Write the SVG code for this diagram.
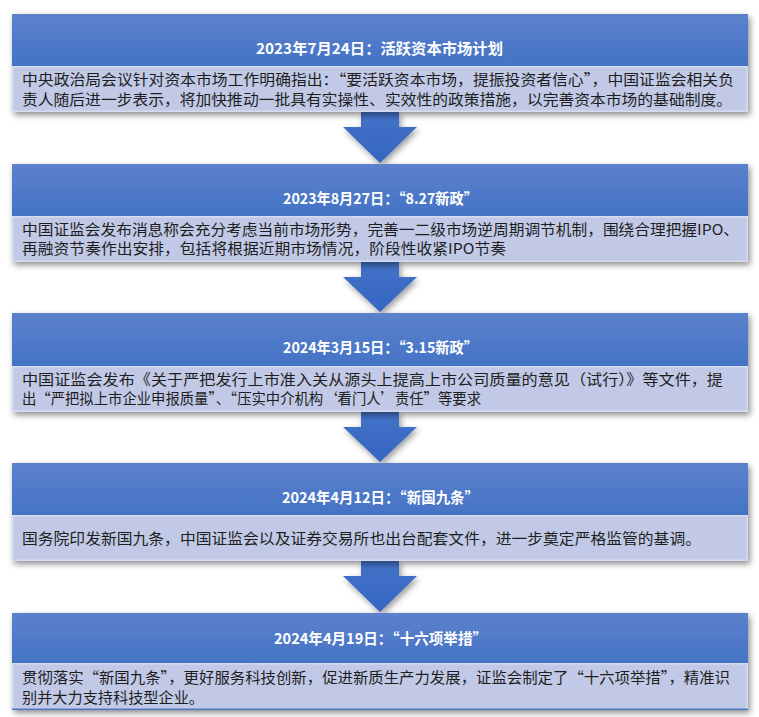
<svg xmlns="http://www.w3.org/2000/svg" width="759" height="717" viewBox="0 0 759 717">
<defs>
<linearGradient id="hg" x1="0" y1="0" x2="0" y2="1">
<stop offset="0" stop-color="#5c81cc"/>
<stop offset="1" stop-color="#4573c5"/>
</linearGradient>
<linearGradient id="ag" x1="0" y1="0" x2="0" y2="1">
<stop offset="0" stop-color="#4473c8"/>
<stop offset="1" stop-color="#3565c2"/>
</linearGradient>
<filter id="sh" x="-5%" y="-10%" width="115%" height="130%">
<feDropShadow dx="2" dy="3" stdDeviation="3" flood-color="#000" flood-opacity="0.45"/>
</filter>
<filter id="ash" x="-30%" y="-20%" width="160%" height="160%">
<feDropShadow dx="2" dy="3" stdDeviation="3" flood-color="#000" flood-opacity="0.4"/>
</filter>
</defs>
<style>
.hd{fill:url(#hg);}
.ds{fill:#c1c9e6;stroke:#d6dcf0;stroke-width:1.5;}
.tt{font-family:"Noto Sans CJK SC","Noto Sans",sans-serif;font-weight:bold;font-size:15px;fill:#ffffff;}
.tx{font-family:"Noto Sans CJK SC","Noto Sans",sans-serif;font-size:15px;fill:#1e1e1e;}
.ar{fill:url(#ag);}
</style>
<rect width="759" height="717" fill="#ffffff"/>
<g id="connectors" filter="url(#ash)">
<path class="ar" d="M361,112 H399 V127 H417 L380,163 L343,127 H361 Z"/>
<path class="ar" d="M361,262 H399 V277 H417 L380,312 L343,277 H361 Z"/>
<path class="ar" d="M361,412 H399 V427 H417 L380,462 L343,427 H361 Z"/>
<path class="ar" d="M361,561 H399 V576 H417 L380,612 L343,576 H361 Z"/>
</g>
<g id="node1">
<g filter="url(#sh)">
<rect class="hd" x="12" y="14" width="736" height="52"/>
<rect class="ds" x="12.75" y="66.75" width="734.5" height="44.5"/>
</g>
<text class="tt" x="256" y="54" textLength="247" lengthAdjust="spacingAndGlyphs">2023年7月24日：活跃资本市场计划</text>
<text class="tx" x="22" y="85" textLength="712" lengthAdjust="spacingAndGlyphs">中央政治局会议针对资本市场工作明确指出：“要活跃资本市场，提振投资者信心”，中国证监会相关负</text>
<text class="tx" x="22" y="104.5" textLength="710" lengthAdjust="spacingAndGlyphs">责人随后进一步表示，将加快推动一批具有实操性、实效性的政策措施，以完善资本市场的基础制度。</text>
</g>
<g id="node2">
<g filter="url(#sh)">
<rect class="hd" x="12" y="164" width="736" height="52"/>
<rect class="ds" x="12.75" y="216.75" width="734.5" height="44.5"/>
</g>
<text class="tt" x="283" y="204" textLength="195" lengthAdjust="spacingAndGlyphs">2023年8月27日：“8.27新政”</text>
<text class="tx" x="22" y="234.5" textLength="717" lengthAdjust="spacingAndGlyphs">中国证监会发布消息称会充分考虑当前市场形势，完善一二级市场逆周期调节机制，围绕合理把握IPO、</text>
<text class="tx" x="22" y="253.5" textLength="484" lengthAdjust="spacingAndGlyphs">再融资节奏作出安排，包括将根据近期市场情况，阶段性收紧IPO节奏</text>
</g>
<g id="node3">
<g filter="url(#sh)">
<rect class="hd" x="12" y="313" width="736" height="53"/>
<rect class="ds" x="12.75" y="366.75" width="734.5" height="44.5"/>
</g>
<text class="tt" x="283" y="353" textLength="195" lengthAdjust="spacingAndGlyphs">2024年3月15日：“3.15新政”</text>
<text class="tx" x="22" y="384.5" textLength="701" lengthAdjust="spacingAndGlyphs">中国证监会发布《关于严把发行上市准入关从源头上提高上市公司质量的意见（试行）》等文件，提</text>
<text class="tx" x="22" y="403.5" textLength="459" lengthAdjust="spacingAndGlyphs">出“严把拟上市企业申报质量”、“压实中介机构‘看门人’责任”等要求</text>
</g>
<g id="node4">
<g filter="url(#sh)">
<rect class="hd" x="12" y="463" width="736" height="52"/>
<rect class="ds" x="12.75" y="515.75" width="734.5" height="44.5"/>
</g>
<text class="tt" x="282" y="503" textLength="197" lengthAdjust="spacingAndGlyphs">2024年4月12日：“新国九条”</text>
<text class="tx" x="22" y="543.5" textLength="679" lengthAdjust="spacingAndGlyphs">国务院印发新国九条，中国证监会以及证券交易所也出台配套文件，进一步奠定严格监管的基调。</text>
</g>
<g id="node5">
<g filter="url(#sh)">
<rect class="hd" x="12" y="613" width="736" height="50"/>
<rect class="ds" x="12.75" y="663.75" width="734.5" height="45"/>
<rect x="12" y="708.5" width="736" height="1.5" fill="#4472c4"/>
</g>
<text class="tt" x="274" y="644" textLength="213" lengthAdjust="spacingAndGlyphs">2024年4月19日：“十六项举措”</text>
<text class="tx" x="22" y="682.5" textLength="708" lengthAdjust="spacingAndGlyphs">贯彻落实“新国九条”，更好服务科技创新，促进新质生产力发展，证监会制定了“十六项举措”，精准识</text>
<text class="tx" x="22" y="702.5" textLength="182" lengthAdjust="spacingAndGlyphs">别并大力支持科技型企业。</text>
</g>
</svg>
